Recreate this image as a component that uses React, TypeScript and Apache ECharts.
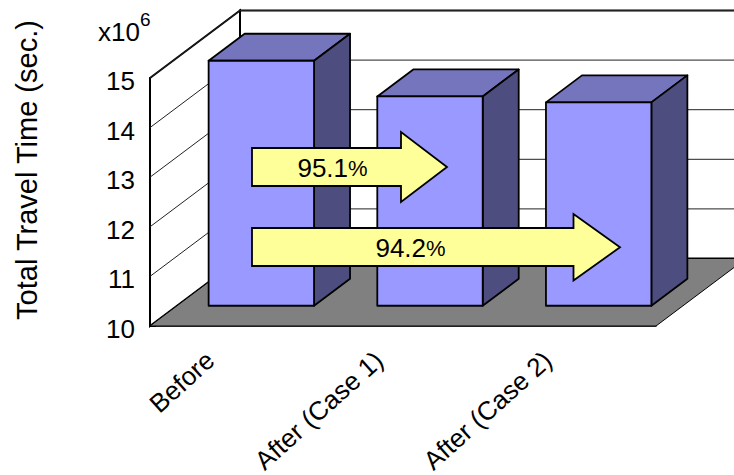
import React, { useEffect, useRef } from "react";
import * as echarts from "echarts";

const categories = ["Before", "After (Case 1)", "After (Case 2)"];
const values = [14.94, 14.22, 14.1];
const gridValues = [11, 12, 13, 14, 15];
const FONT = '"Liberation Sans", Arial, sans-serif';
const DX = 90, DY = 67.5;

function pts(...p: number[][]) { return { points: p }; }

export default function App() {
  const ref = useRef<HTMLDivElement>(null);
  useEffect(() => {
    const chart = echarts.init(ref.current!, null, { renderer: "svg" });
    const arrow = (x0: number, xb: number, xt: number, t: number, b: number, ht: number, hb: number, z = 50) => ({
      type: "polygon", z,
      shape: { points: [[x0, t], [xb, t], [xb, ht], [xt, (ht + hb) / 2], [xb, hb], [xb, b], [x0, b]] },
      style: { fill: "#FFFF99", stroke: "#000", lineWidth: 1.8 },
    });
    const label = (x: number, y: number, a: string) => ({
      type: "text", z: 51, x, y,
      style: {
        text: `{a|${a}}{b|%}`, align: "center", verticalAlign: "middle", fill: "#000",
        rich: {
          a: { fontFamily: FONT, fontSize: 26, fill: "#000" },
          b: { fontFamily: FONT, fontSize: 22, fill: "#000" },
        },
      },
    });
    chart.setOption({
      animation: false,
      grid: { left: 150, top: 78, width: 506, height: 248, outerBoundsMode: "none" },
      xAxis: {
        type: "category", data: categories,
        axisLine: { lineStyle: { color: "#000", width: 1.5 } },
        axisTick: { inside: true, length: 6, lineStyle: { color: "#000", width: 1 } },
        axisLabel: { interval: 0, rotate: 42, margin: 57, fontFamily: FONT, fontSize: 26, color: "#000", verticalAlign: "bottom", lineHeight: 72 },
      },
      yAxis: {
        type: "value", min: 10, max: 15, interval: 1,
        axisLine: { show: true, lineStyle: { color: "#000", width: 2 } },
        axisTick: { show: true, inside: true, length: 6, lineStyle: { color: "#000", width: 1 } },
        axisLabel: { margin: 15, fontFamily: FONT, fontSize: 26, color: "#000", verticalAlign: "top", lineHeight: 6 },
        splitLine: { show: false },
      },
      series: [
        {
          type: "custom", coordinateSystem: "cartesian2d", z: 1, silent: true,
          data: [[0]],
          renderItem: (_p: any, api: any) => {
            const bl = api.coord([0, 10]);
            const w = api.size([1, 0])[0];
            const L = bl[0] - w / 2, B = bl[1];
            const T = api.coord([0, 15])[1];
            const R = L + w * 3;
            return {
              type: "group",
              children: [
                { type: "polygon", shape: pts([L + DX, T - DY], [R + DX, T - DY], [R + DX, B - DY], [L + DX, B - DY]), style: { fill: "#fff", stroke: "#000", lineWidth: 2 } },
                { type: "polygon", shape: pts([L, T], [L + DX, T - DY], [L + DX, B - DY], [L, B]), style: { fill: "#fff", stroke: "#000", lineWidth: 2 } },
                { type: "polygon", shape: pts([L, B], [L + DX, B - DY], [R + DX, B - DY], [R, B]), style: { fill: "#808080", stroke: "#000", lineWidth: 1 } },
              ],
            };
          },
        },
        {
          type: "custom", coordinateSystem: "cartesian2d", z: 2, silent: true,
          encode: { y: 0 },
          data: gridValues.map((v) => [v]),
          renderItem: (_p: any, api: any) => {
            const v = api.value(0);
            const y = api.coord([0, v])[1];
            const w = api.size([1, 0])[0];
            const L = api.coord([0, 10])[0] - w / 2;
            const R = L + w * 3;
            return {
              type: "polyline",
              shape: pts([L, y], [L + DX, y - DY], [R + DX, y - DY]),
              style: { fill: "none", stroke: "#222", lineWidth: 1 },
            };
          },
        },
        {
          type: "custom", coordinateSystem: "cartesian2d", z: 3, silent: true,
          encode: { x: 0, y: 1 },
          data: values.map((v, i) => [i, v]),
          renderItem: (_p: any, api: any) => {
            const i = api.value(0), v = api.value(1);
            const c = api.coord([i, 10]);
            const w = api.size([1, 0])[0];
            const hw = (w * 0.625) / 2;
            const off = 0.3, dep = 0.4;
            const x0 = c[0] + DX * off - hw, x1 = c[0] + DX * off + hw;
            const yb = c[1] - DY * off, yt = api.coord([i, v])[1] - DY * off;
            const dx = DX * dep, dy = DY * dep;
            const st = { stroke: "#000", lineWidth: 1.8, lineJoin: "round" };
            return {
              type: "group",
              children: [
                { type: "polygon", shape: pts([x0, yt], [x1, yt], [x1 + dx, yt - dy], [x0 + dx, yt - dy]), style: { fill: "#7575BD", ...st } },
                { type: "polygon", shape: pts([x1, yt], [x1 + dx, yt - dy], [x1 + dx, yb - dy], [x1, yb]), style: { fill: "#4D4D7F", ...st } },
                { type: "polygon", shape: pts([x0, yt], [x1, yt], [x1, yb], [x0, yb]), style: { fill: "#9999FF", ...st } },
              ],
            };
          },
        },
      ],
      graphic: [
        arrow(252, 401, 447, 148, 186, 132, 202),
        arrow(252, 573.5, 620, 228, 266, 214, 280.5),
        label(332.5, 168, "95.1"),
        label(410.5, 248, "94.2"),
        { type: "text", z: 51, x: 27, y: 170, rotation: Math.PI / 2,
          style: { text: "Total Travel Time (sec.)", fontFamily: FONT, fontSize: 29, fill: "#000", align: "center", verticalAlign: "middle" } },
        { type: "text", z: 51, x: 98, y: 10,
          style: { text: "{a|x10}{b|6}", fill: "#000",
            rich: { a: { fontFamily: FONT, fontSize: 26, fill: "#000", lineHeight: 44 }, b: { fontFamily: FONT, fontSize: 19, fill: "#000", verticalAlign: "top", lineHeight: 19 } } } },
      ],
    });
    return () => chart.dispose();
  }, []);
  return <div ref={ref} style={{ position: "absolute", left: 0, top: 0, width: 734, height: 475, overflow: "hidden", background: "#fff" }} />;
}
